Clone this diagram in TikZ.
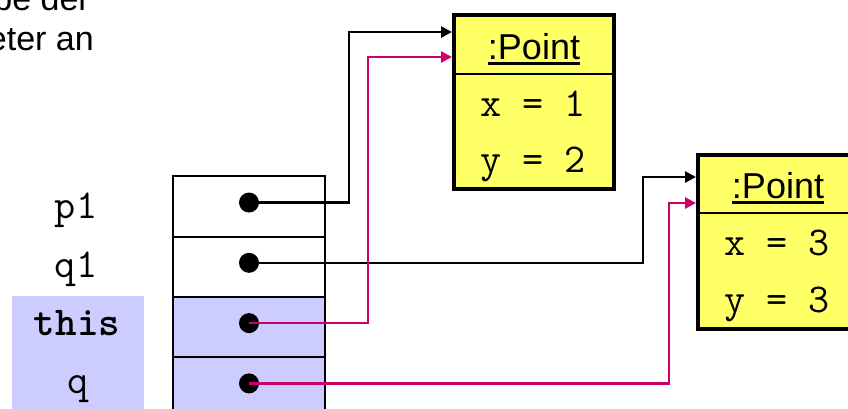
\documentclass[tikz,border=0pt]{standalone}
\usepackage{fontspec}
\setmainfont{Liberation Sans}
\usetikzlibrary{arrows.meta,positioning}
\definecolor{objyellow}{RGB}{255,255,102}
\definecolor{stacklav}{RGB}{204,204,255}
\definecolor{refpink}{RGB}{204,0,102}

\begin{document}
\begin{tikzpicture}[
  x=1pt, y=-1pt,
  obj/.style={draw, line width=4pt, fill=objyellow, outer sep=0pt, inner sep=0pt,
              minimum width=160pt, minimum height=174pt, anchor=north west},
  cell/.style={draw, line width=1.8pt, outer sep=0pt, minimum width=152pt,
               minimum height=60.3pt},
  dot/.style={circle, fill=black, inner sep=0pt, minimum size=20pt},
  note/.style={font=\fontsize{34}{34}\selectfont, inner sep=0pt, anchor=base east},
  cls/.style={font=\fontsize{36}{36}\selectfont, inner sep=0pt, anchor=base},
  attr/.style={font=\ttfamily\fontsize{41}{41}\selectfont, inner sep=0pt, anchor=base},
  var/.style={font=\ttfamily\fontsize{41}{41}\selectfont, inner sep=0pt, anchor=base},
  ref/.style={-{Triangle[length=11pt,width=11pt]}, line width=2.6pt},
  thisref/.style={ref, draw=refpink}
]
\useasboundingbox (0,0) rectangle (848,408);
\clip (0,0) rectangle (848,408);

% caption text, cut at the left edge
\node[note] (note1) at (90,10) {be der};
\node[note] (note2) at (94,50) {eter an};

% the two Point objects
\node[obj] (obj1) at (454,15) {};
\draw[line width=2pt] ([yshift=-59pt]obj1.north west) -- ([yshift=-59pt]obj1.north east);
\node[cls] (cls1) at (534,59) {:Point};
\draw[line width=2.6pt] ([yshift=-4.5pt]cls1.base west) -- ([yshift=-4.5pt]cls1.base east);
\node[attr] (x1) at (533,116) {x = 1};
\node[attr] (y1) at (533,172) {y = 2};

\node[obj] (obj2) at (698,155) {};
\draw[line width=2pt] ([yshift=-58pt]obj2.north west) -- ([yshift=-58pt]obj2.north east);
\node[cls] (cls2) at (778,198) {:Point};
\draw[line width=2.6pt] ([yshift=-4.5pt]cls2.base west) -- ([yshift=-4.5pt]cls2.base east);
\node[attr] (x2) at (777,255) {x = 3};
\node[attr] (y2) at (777,312) {y = 3};

% stack frame
\node[fill=stacklav, inner sep=0pt, outer sep=0pt, minimum width=132pt,
      minimum height=120pt, anchor=north west] (thisbg) at (12,296) {};
\node[var] (lp1) at (76,218) {p1};
\node[var] (lq1) at (76,277) {q1};
\node[var] (lthis) at (77,335) {\bfseries this};
\node[var] (lq) at (78,393) {q};

\node[cell] (cp1) at (249,206.5) {};
\node[cell, below=0pt of cp1] (cq1) {};
\node[cell, fill=stacklav, below=0pt of cq1] (cthis) {};
\node[cell, fill=stacklav, below=0pt of cthis] (cq) {};

% arrow ends on the objects
\coordinate (t1) at (452,32);
\coordinate (t2) at (452,57);
\coordinate (t3) at (696,177);
\coordinate (t4) at (696,203);

\draw[ref] ([yshift=4pt]cp1.center) -| (349,32) -- (t1);
\draw[ref] ([yshift=4pt]cq1.center) -| (643,177) -- (t3);

\node[dot] (dp1) at ([yshift=4pt]cp1.center) {};
\node[dot] (dq1) at ([yshift=4pt]cq1.center) {};
\node[dot] (dthis) at ([yshift=4pt]cthis.center) {};
\node[dot] (dq) at ([yshift=4pt]cq.center) {};

\draw[thisref] (dthis.center) -| (368,57) -- (t2);
\draw[thisref] (dq.center) -| (669,203) -- (t4);
\end{tikzpicture}
\end{document}
